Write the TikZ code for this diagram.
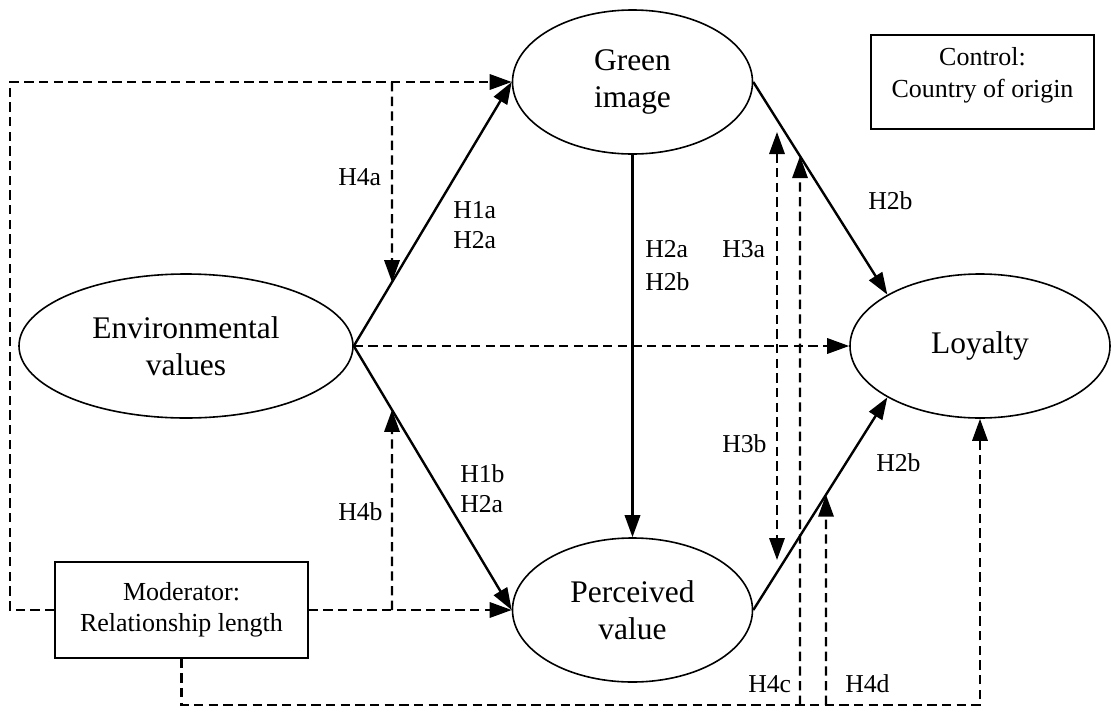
\documentclass[tikz,border=0pt]{standalone}
\usepackage{fontspec}
\setmainfont{Liberation Serif}
\usetikzlibrary{shapes.geometric,arrows.meta}
\begin{document}
\begin{tikzpicture}[x=0.75pt,y=-0.75pt,
  latent/.style={ellipse, draw, line width=1.2pt, inner sep=0pt, align=center,
    font=\fontsize{23.6}{27.75}\selectfont},
  boxnode/.style={rectangle, draw, line width=1.2pt, inner sep=0pt, align=center,
    font=\fontsize{19.5}{23.5}\selectfont},
  lab/.style={anchor=base west, inner sep=0pt, font=\fontsize{19.3}{22.5}\selectfont},
  tip/.tip={Triangle[length=16.5pt,width=11.5pt]},
  solidarr/.style={line width=1.8pt, -tip},
  dashline/.style={line width=1.7pt, dash pattern=on 7pt off 4pt},
  dasharr/.style={dashline, -tip}]
\useasboundingbox (0,0) rectangle (1111,711);

% latent variables
\node[latent, minimum width=250.5pt, minimum height=108pt] (env) at (186,346) {Environmental\\values};
\node[latent, minimum width=180pt, minimum height=108pt] (green) at (632.5,82) {Green\\image};
\node[latent, minimum width=180pt, minimum height=108pt] (perc) at (632.5,610) {Perceived\\value};
\node[latent, minimum width=195pt, minimum height=108pt] (loy) at (980,346) {Loyalty};

% boxes
\node[boxnode, minimum width=189.75pt, minimum height=72pt] (mod) at (181.5,610) {Moderator:\\Relationship length};
\node[boxnode, minimum width=167pt, minimum height=70.5pt] (ctrl) at (982.5,82) {};
\node[align=center, inner sep=0pt, font=\fontsize{19.5}{24}\selectfont] (ctrltxt) at (982.5,75) {Control:\\Country of origin};

% solid paths
\draw[solidarr] (env.east) -- (green.west);
\draw[solidarr] (env.east) -- (perc.west);
\draw[solidarr] (green.south) -- (perc.north);
\draw[solidarr] (green.east) -- (loy.151);
\draw[solidarr] (perc.east) -- (loy.209);
\draw[dasharr] (env.east) -- (loy.west);

% moderator paths
\coordinate (ltop) at (10,82);
\draw[dasharr] (mod.west) -| (ltop) -- (green.west);
\draw[dasharr] (mod.east) -- (perc.west);

\coordinate (a4top) at (392,82);
\coordinate (a4bot) at (392,610);
\draw[dasharr] (a4top) -- (intersection of env.east--green.west and a4top--a4bot);
\draw[dasharr] (a4bot) -- (intersection of env.east--perc.west and a4top--a4bot);

\coordinate (bot) at (980,705);
\draw[dasharr] (mod.south) |- (bot) -- (loy.south);

\coordinate (c4bot) at (800,705);
\coordinate (c4top) at (800,0);
\draw[dasharr] (c4bot) -- (intersection of green.east--loy.151 and c4bot--c4top);
\coordinate (d4bot) at (826,705);
\coordinate (d4top) at (826,0);
\draw[dasharr] (d4bot) -- (intersection of perc.east--loy.209 and d4bot--d4top);

% H3 double arrow
\coordinate (h3t) at (777,132);
\coordinate (h3b) at (777,560);
\draw[dashline, tip-tip] (h3t) -- (h3b);

% labels
\node[lab] (l4a) at (338,185) {H4a};
\node[lab] (l1a) at (453,218) {H1a};
\node[lab] (l2a1) at (453,248) {H2a};
\node[lab] (l2a2) at (645,257) {H2a};
\node[lab] (l2b1) at (645,290) {H2b};
\node[lab] (l3a) at (722,257) {H3a};
\node[lab] (l2b2) at (868,209) {H2b};
\node[lab] (l3b) at (722,452) {H3b};
\node[lab] (l2b3) at (876,471) {H2b};
\node[lab] (l1b) at (460,482) {H1b};
\node[lab] (l2a3) at (460,512) {H2a};
\node[lab] (l4b) at (338,520) {H4b};
\node[lab] (l4c) at (748,692) {H4c};
\node[lab] (l4d) at (845,692) {H4d};
\end{tikzpicture}
\end{document}
